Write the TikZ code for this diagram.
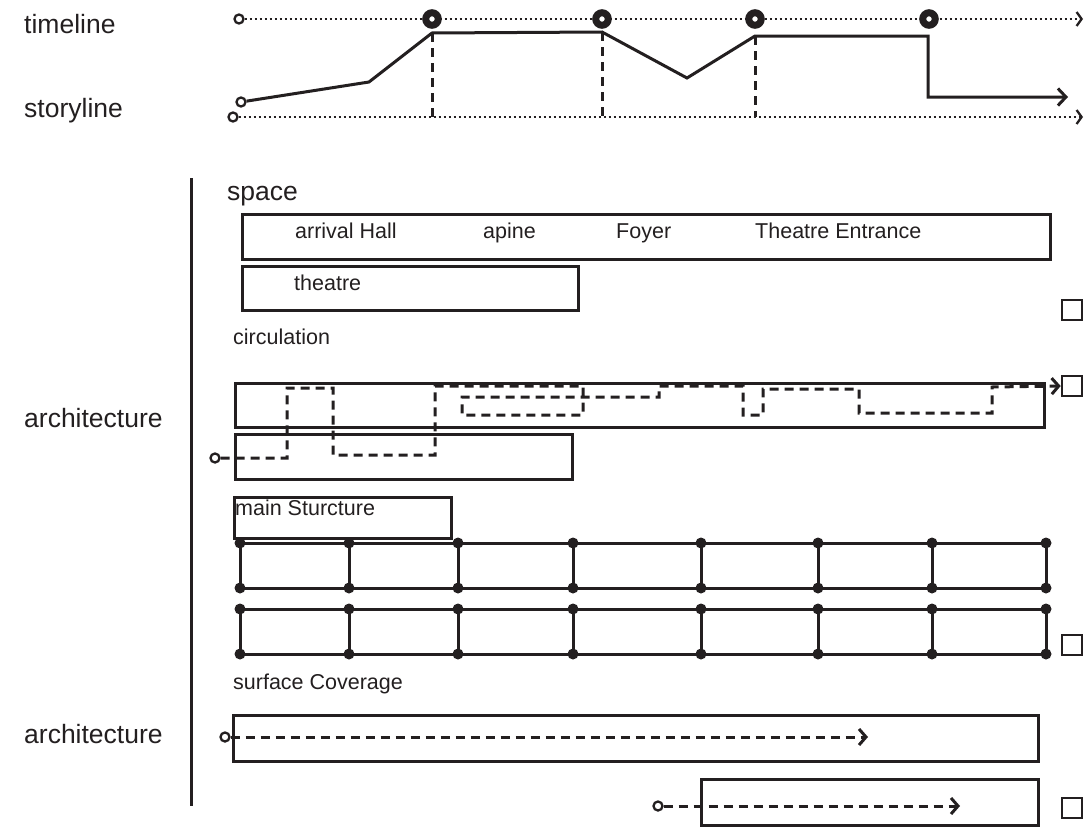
\documentclass[tikz,border=0pt]{standalone}
\usepackage{fontspec}
\setmainfont{Liberation Sans}
\usetikzlibrary{arrows.meta,positioning}
\definecolor{Ink}{RGB}{35,31,32}
\tikzset{
  biglbl/.style={anchor=base west,inner sep=0pt,font=\fontsize{26.5}{30}\selectfont,text=Ink},
  smalllbl/.style={anchor=base west,inner sep=0pt,font=\fontsize{21.5}{25}\selectfont,text=Ink},
  zone/.style={rectangle,draw=Ink,line width=3pt,anchor=north west,inner sep=0pt},
  marker/.style={rectangle,draw=Ink,line width=2.6pt,minimum size=20pt,inner sep=0pt},
  ring/.style={circle,draw=Ink,fill=white,line width=7pt,minimum size=12.5pt,inner sep=0pt},
  odot/.style={circle,draw=Ink,fill=white,line width=2.3pt,minimum size=9pt,inner sep=0pt},
  jdot/.style={circle,fill=Ink,minimum size=11pt,inner sep=0pt},
  dotline/.style={Ink,line width=2.3pt,dash pattern=on 2.2pt off 2.8pt,
                  -{Straight Barb[length=5pt,width=14pt]}},
  storyedge/.style={Ink,line width=3pt},
  dashedge/.style={Ink,line width=3pt,dash pattern=on 9pt off 6pt},
  gridedge/.style={Ink,line width=3pt},
  barb/.style={-{Straight Barb[length=7pt,width=16pt]}},
}

\begin{document}
\begin{tikzpicture}[x=1pt,y=-1pt]
  \useasboundingbox (0,0) rectangle (1084,827);
  % left labels and bar
  \node[biglbl] (timelbl) at (24,33) {timeline};
  \node[biglbl] (storylbl) at (24,117) {storyline};
  \node[biglbl] (archlbl) at (24,427) {architecture};
  \node[biglbl] (archlblb) at (24,743) {architecture};
  \coordinate (bartop) at (191,178);
  \coordinate (barbot) at (191,806);
  \draw[Ink,line width=3pt] (bartop) -- (barbot);
  %
  % timeline
  \node[odot] (t0) at (239,19) {};
  \coordinate (tend) at (1083,19);
  \draw[dotline] (t0) -- (tend);
  \node[ring] (r1) at (432,19) {};
  \node[ring] (r2) at (602,19) {};
  \node[ring] (r3) at (755,19) {};
  \node[ring] (r4) at (929,19) {};
  %
  % storyline
  \node[odot] (s0) at (233,117) {};
  \coordinate (send) at (1083,117);
  \coordinate (p1) at (369,82);
  \coordinate (p2) at (432,33);
  \coordinate (p3) at (602,32);
  \coordinate (p4) at (687,78);
  \coordinate (p5) at (755,36);
  \coordinate (p6) at (928,36);
  \coordinate (p7) at (928,97);
  \coordinate (p8) at (1068,97);
  \draw[dotline] (s0) -- (send);
  \draw[dashedge] (p2) -- (p2 |- send);
  \draw[dashedge] (p3) -- (p3 |- send);
  \draw[dashedge] (p5) -- (p5 |- send);
  \node[odot] (p0) at (241,102) {};
  \draw[storyedge,-{Straight Barb[length=8pt,width=17pt]}]
    (p0) -- (p1) -- (p2) -- (p3) -- (p4) -- (p5) -- (p6) -- (p7) -- (p8);
  %
  % space
  \node[biglbl] (spacelbl) at (227,200) {space};
  \node[zone,minimum width=808pt,minimum height=45pt] (hall) at (241,213) {};
  \node[smalllbl] at (295,238) {arrival Hall};
  \node[smalllbl] at (483,238) {apine};
  \node[smalllbl] at (616,238) {Foyer};
  \node[smalllbl] at (755,238) {Theatre Entrance};
  \node[zone,minimum width=336pt,minimum height=44pt] (theatre) at (241,265) {};
  \node[smalllbl] at (294,290) {theatre};
  \node[marker] (sq1) at (1072,310) {};
  %
  % circulation
  \node[smalllbl] (circlbl) at (233,344) {circulation};
  \node[zone,minimum width=809pt,minimum height=44pt] (circa) at (234,382) {};
  \node[zone,minimum width=337pt,minimum height=45pt] (circb) at (234,433) {};
  \node[marker] (sq2) at (1072,386) {};
  \node[odot] (c0) at (215,458) {};
  \draw[dashedge,barb] (c0) -- (287,458) -- (287,388) -- (333,388) -- (333,455)
    -- (435,455) -- (435,386) -- (583,386) -- (583,415) -- (462,415) -- (462,397)
    -- (659,397) -- (659,386) -- (743,386) -- (743,415) -- (763,415) -- (763,389)
    -- (859,389) -- (859,413) -- (992,413) -- (992,387) -- (sq2.west);
  %
  % main structure
  \node[zone,minimum width=217pt,minimum height=41pt] (mainst) at (233,496) {};
  \node[smalllbl] at (235,515) {main Sturcture};
  \foreach \x [count=\i] in {240,349,458,573,701,818,932,1046}{
    \node[jdot] (ga\i) at (\x,543) {};
    \node[jdot] (gb\i) at (\x,588) {};
    \node[jdot] (gc\i) at (\x,609) {};
    \node[jdot] (gd\i) at (\x,654) {};
    \draw[gridedge] (ga\i.center) -- (gb\i.center);
    \draw[gridedge] (gc\i.center) -- (gd\i.center);
  }
  \draw[gridedge] (ga1.center) -- (ga8.center);
  \draw[gridedge] (gb1.center) -- (gb8.center);
  \draw[gridedge] (gc1.center) -- (gc8.center);
  \draw[gridedge] (gd1.center) -- (gd8.center);
  \node[marker] (sq3) at (1072,645) {};
  %
  % surface coverage
  \node[smalllbl] (surflbl) at (233,689) {surface Coverage};
  \node[zone,minimum width=805pt,minimum height=46pt] (surfa) at (232,714) {};
  \node[zone,minimum width=337pt,minimum height=46pt] (surfb) at (700,778) {};
  \node[odot] (b0) at (225,737) {};
  \coordinate (b1) at (868,737);
  \draw[dashedge,barb] (b0) -- (b1);
  \node[odot] (b2) at (658,806) {};
  \coordinate (b3) at (960,806);
  \draw[dashedge,barb] (b2) -- (b3);
  \node[marker] (sq4) at (1072,808) {};
\end{tikzpicture}
\end{document}
